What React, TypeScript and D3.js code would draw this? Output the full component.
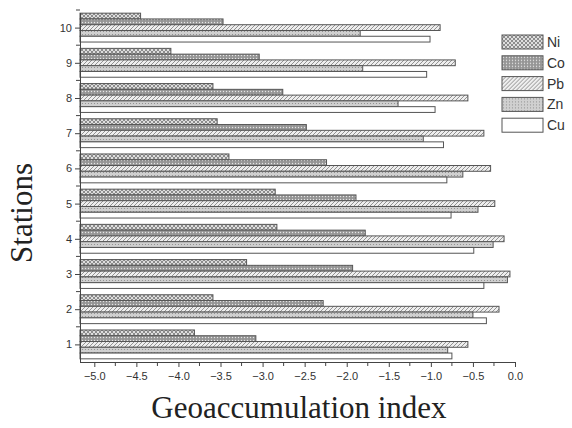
import React, { useRef, useEffect } from 'react';
import * as d3 from 'd3';

const stations = [1, 2, 3, 4, 5, 6, 7, 8, 9, 10];
const metals = ['Ni', 'Co', 'Pb', 'Zn', 'Cu'];
const niValues = [-3.81, -3.59, -3.19, -2.83, -2.85, -3.40, -3.54, -3.59, -4.09, -4.45];
const coValues = [-3.08, -2.28, -1.93, -1.78, -1.89, -2.24, -2.48, -2.76, -3.04, -3.47];
const pbValues = [-0.56, -0.19, -0.06, -0.13, -0.24, -0.29, -0.37, -0.56, -0.71, -0.89];
const znValues = [-0.80, -0.50, -0.09, -0.26, -0.44, -0.62, -1.09, -1.39, -1.81, -1.84];
const cuValues = [-0.75, -0.34, -0.37, -0.49, -0.76, -0.81, -0.85, -0.95, -1.05, -1.01];
const xTicks = [-5.0, -4.5, -4.0, -3.5, -3.0, -2.5, -2.0, -1.5, -1.0, -0.5, 0.0];

const seriesValues: Record<string, number[]> = { Ni: niValues, Co: coValues, Pb: pbValues, Zn: znValues, Cu: cuValues };
const fills: Record<string, string> = {
  Ni: 'url(#pat-ni)', Co: 'url(#pat-co)', Pb: 'url(#pat-pb)', Zn: 'url(#pat-zn)', Cu: '#ffffff',
};

export default function App() {
  const svgRef = useRef<SVGSVGElement>(null);

  useEffect(() => {
    if (!svgRef.current) return;
    const left = 80, right = 515, top = 10, bottom = 362;

    const svg = d3.select(svgRef.current);
    svg.selectAll('*').remove();

    // hatch patterns, like the Origin fills
    const defs = svg.append('defs');
    const ni = defs.append('pattern').attr('id', 'pat-ni').attr('patternUnits', 'userSpaceOnUse')
      .attr('width', 4).attr('height', 4);
    ni.append('rect').attr('width', 4).attr('height', 4).attr('fill', '#dedede');
    ni.append('path').attr('d', 'M0,0L4,4M4,0L0,4').attr('stroke', '#777').attr('stroke-width', 0.8);

    const co = defs.append('pattern').attr('id', 'pat-co').attr('patternUnits', 'userSpaceOnUse')
      .attr('width', 3).attr('height', 3);
    co.append('rect').attr('width', 3).attr('height', 3).attr('fill', '#959595');
    co.append('circle').attr('cx', 1.5).attr('cy', 1.5).attr('r', 0.7).attr('fill', '#e6e6e6');

    const pb = defs.append('pattern').attr('id', 'pat-pb').attr('patternUnits', 'userSpaceOnUse')
      .attr('width', 4).attr('height', 4);
    pb.append('rect').attr('width', 4).attr('height', 4).attr('fill', '#eeeeee');
    pb.append('path').attr('d', 'M-1,5L5,-1M-1,1L1,-1M3,5L5,3').attr('stroke', '#888').attr('stroke-width', 0.9);

    const zn = defs.append('pattern').attr('id', 'pat-zn').attr('patternUnits', 'userSpaceOnUse')
      .attr('width', 3).attr('height', 3);
    zn.append('rect').attr('width', 3).attr('height', 3).attr('fill', '#d0d0d0');
    zn.append('circle').attr('cx', 1.5).attr('cy', 1.5).attr('r', 0.6).attr('fill', '#888');

    const x = d3.scaleLinear().domain([-5.17, 0]).range([left, right]);
    const y = d3.scaleLinear().domain([0.5, 10.5]).range([bottom, top]);
    const band = y(1) - y(2);
    const sub = d3.scaleBand<string>().domain(metals).range([-band * 0.41, band * 0.41]);

    const g = svg.append('g');

    metals.forEach(m => {
      g.append('g').selectAll('rect')
        .data(stations)
        .enter()
        .append('rect')
        .attr('x', x(-5.17))
        .attr('y', (d) => y(d) + (sub(m) as number))
        .attr('width', (d, i) => x(seriesValues[m][i]) - x(-5.17))
        .attr('height', sub.bandwidth())
        .attr('fill', fills[m])
        .attr('stroke', '#555')
        .attr('stroke-width', 1);
    });

    // x axis, labels every 0.5 with minor ticks between
    const xAxis = d3.axisBottom(x).tickValues(xTicks).tickSize(5).tickFormat(d3.format('.1f'));
    const gx = svg.append('g').attr('transform', `translate(0,${bottom})`).call(xAxis);
    gx.select('.domain').attr('d', `M${left},0.5H${right}`).attr('stroke', '#444');
    gx.selectAll('.tick line').attr('stroke', '#444');
    gx.selectAll('.tick text').attr('fill', '#333').style('font-family', 'Arial, Liberation Sans, sans-serif')
      .style('font-size', '11px').attr('dy', '0.95em');
    gx.selectAll('.minor').data(xTicks.slice(0, -1)).enter().append('line')
      .attr('x1', d => x(d + 0.25)).attr('x2', d => x(d + 0.25))
      .attr('y1', 0).attr('y2', 4).attr('stroke', '#444');

    const yAxis = d3.axisLeft(y).tickValues(stations).tickSize(5).tickFormat(d3.format('d'));
    const gy = svg.append('g').attr('transform', `translate(${left},0)`).call(yAxis);
    gy.select('.domain').attr('d', `M0.5,${top + 3}V${bottom}`).attr('stroke', '#444');
    gy.selectAll('.tick line').attr('stroke', '#444');
    gy.selectAll('.tick text').attr('fill', '#333').style('font-family', 'Arial, Liberation Sans, sans-serif')
      .style('font-size', '11px');
    gy.selectAll('.minor').data(stations).enter().append('line')
      .attr('y1', d => y(d + 0.5)).attr('y2', d => y(d + 0.5))
      .attr('x1', 0).attr('x2', -4).attr('stroke', '#444');

    svg.append('text')
      .attr('x', 299).attr('y', 418)
      .attr('text-anchor', 'middle')
      .style('font-family', 'Liberation Serif, Times New Roman, serif')
      .style('font-size', '31px')
      .attr('fill', '#222')
      .text('Geoaccumulation index');

    svg.append('text')
      .attr('transform', 'translate(32,213) rotate(-90)')
      .attr('text-anchor', 'middle')
      .style('font-family', 'Liberation Serif, Times New Roman, serif')
      .style('font-size', '31px')
      .attr('fill', '#222')
      .text('Stations');

    // legend
    const legend = svg.append('g').attr('transform', 'translate(502,35)');
    metals.forEach((m, i) => {
      const row = legend.append('g').attr('transform', `translate(0,${i * 20.8})`);
      row.append('rect').attr('width', 41).attr('height', 14)
        .attr('fill', fills[m]).attr('stroke', '#555').attr('stroke-width', 1);
      row.append('text').attr('x', 45).attr('y', 12)
        .style('font-family', 'Arial, Liberation Sans, sans-serif')
        .style('font-size', '14px').attr('fill', '#333')
        .text(m);
    });
  }, []);

  return (
    <div style={{ position: 'absolute', left: 0, top: 0, background: '#fff' }}>
      <svg ref={svgRef} width={572} height={428} style={{ display: 'block' }} />
    </div>
  );
}
